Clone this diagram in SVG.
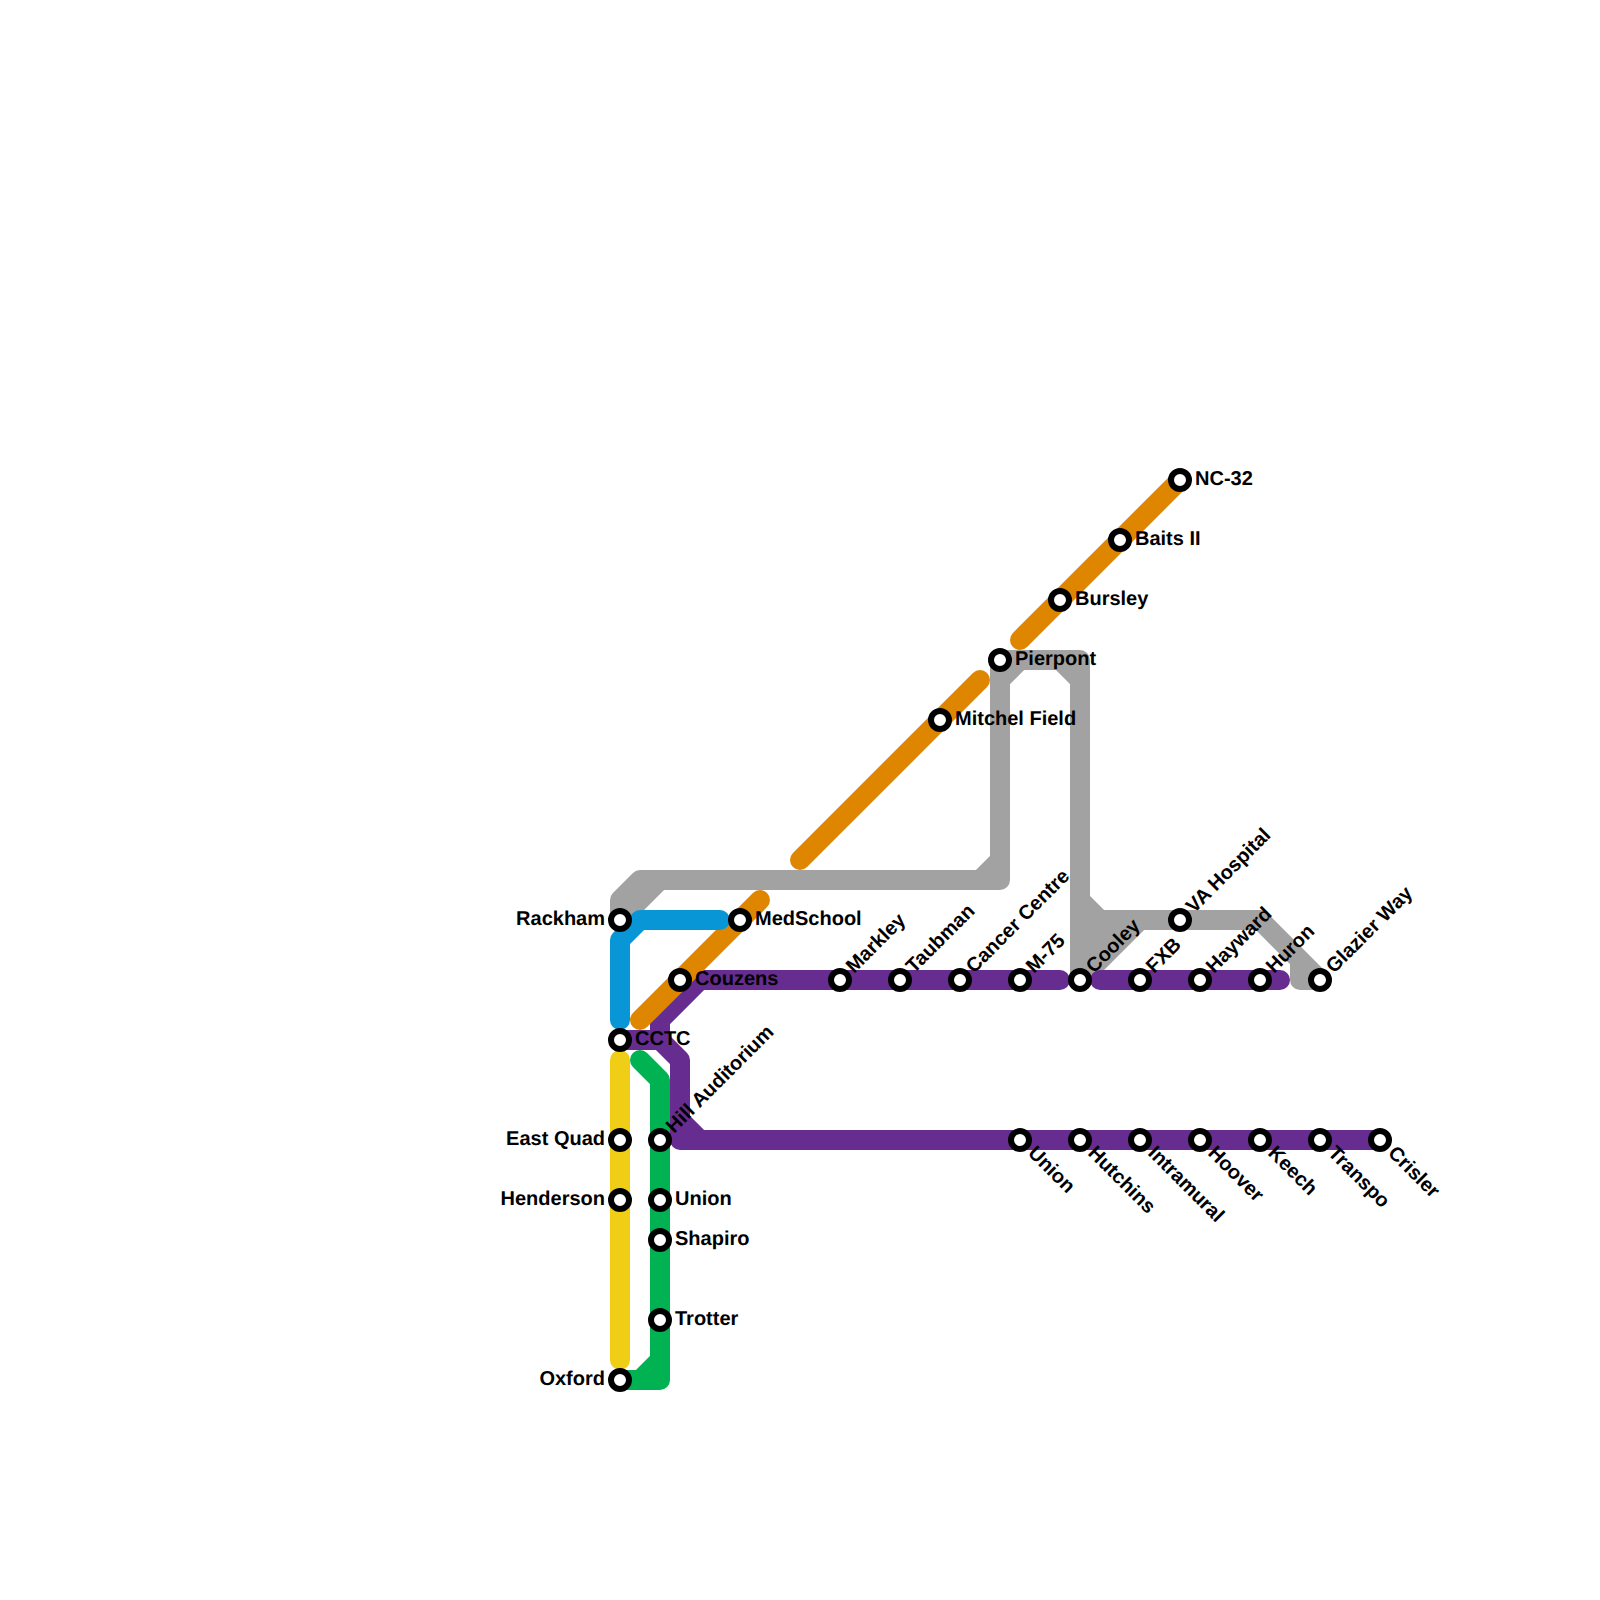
<svg xmlns="http://www.w3.org/2000/svg" width="1600" height="1600" viewBox="0 0 1600 1600">
<style>
.l{fill:none;stroke-width:20;stroke-linecap:round;stroke-linejoin:round}
.gy{stroke:#a2a2a2}.pu{stroke:#662c90}.or{stroke:#df8600}.bl{stroke:#0896d7}.ye{stroke:#f0ce15}.gr{stroke:#00b251}
.s circle{fill:#fff;stroke:#000;stroke-width:6}
text{font-family:"Liberation Sans",Arial,sans-serif;font-size:20px;font-weight:700;fill:#000;text-rendering:geometricPrecision}
</style>
<rect width="1600" height="1600" fill="#fff"/>
<g id="connectors">
<path class="l gy" d="M620 920V900L640 880H1000V660H1080V980M620 920L660 880M980 880L1000 860M1000 680L1020 660M1060 660L1080 680M1080 900L1100 920H1260L1320 980H1300V960M1100 960L1140 920M1080 980L1100 960"/>
<path fill="#a2a2a2" d="M1080 920H1140L1100 960L1080 980Z"/>
<path class="l pu" d="M620 1040H660L680 1060V1140H1380M660 1040V1020L700 980H1060M1100 980H1280M680 1120L700 1140"/>
<path class="l or" d="M640 1020L760 900M800 860L980 680M1020 640L1180 480"/>
<path class="l bl" d="M620 1020V940L640 920H720M620 940L640 920"/>
<path class="l ye" d="M620 1060V1360"/>
<path class="l gr" d="M640 1060L660 1080V1380H620M640 1380L660 1360"/>
</g>
<g id="n-rackham" class="s"><circle cx="620" cy="920" r="9"/><text x="605" y="925" text-anchor="end">Rackham</text></g>
<g id="n-cctc" class="s"><circle cx="620" cy="1040" r="9"/><text x="635" y="1045">CCTC</text></g>
<g id="n-eastquad" class="s"><circle cx="620" cy="1140" r="9"/><text x="605" y="1145" text-anchor="end">East Quad</text></g>
<g id="n-henderson" class="s"><circle cx="620" cy="1200" r="9"/><text x="605" y="1205" text-anchor="end">Henderson</text></g>
<g id="n-oxford" class="s"><circle cx="620" cy="1380" r="9"/><text x="605" y="1385" text-anchor="end">Oxford</text></g>
<g id="n-hill" class="s"><circle cx="660" cy="1140" r="9"/><text transform="translate(674 1134) rotate(-45)">Hill Auditorium</text></g>
<g id="n-union" class="s"><circle cx="660" cy="1200" r="9"/><text x="675" y="1205">Union</text></g>
<g id="n-shapiro" class="s"><circle cx="660" cy="1240" r="9"/><text x="675" y="1245">Shapiro</text></g>
<g id="n-trotter" class="s"><circle cx="660" cy="1320" r="9"/><text x="675" y="1325">Trotter</text></g>
<g id="n-couzens" class="s"><circle cx="680" cy="980" r="9"/><text x="695" y="985">Couzens</text></g>
<g id="n-medschool" class="s"><circle cx="740" cy="920" r="9"/><text x="755" y="925">MedSchool</text></g>
<g id="n-markley" class="s"><circle cx="840" cy="980" r="9"/><text transform="translate(854 974) rotate(-45)">Markley</text></g>
<g id="n-taubman" class="s"><circle cx="900" cy="980" r="9"/><text transform="translate(914 974) rotate(-45)">Taubman</text></g>
<g id="n-cancer" class="s"><circle cx="960" cy="980" r="9"/><text transform="translate(974 974) rotate(-45)">Cancer Centre</text></g>
<g id="n-m75" class="s"><circle cx="1020" cy="980" r="9"/><text transform="translate(1034 974) rotate(-45)">M-75</text></g>
<g id="n-cooley" class="s"><circle cx="1080" cy="980" r="9"/><text transform="translate(1094 974) rotate(-45)">Cooley</text></g>
<g id="n-fxb" class="s"><circle cx="1140" cy="980" r="9"/><text transform="translate(1154 974) rotate(-45)">FXB</text></g>
<g id="n-hayward" class="s"><circle cx="1200" cy="980" r="9"/><text transform="translate(1214 974) rotate(-45)">Hayward</text></g>
<g id="n-huron" class="s"><circle cx="1260" cy="980" r="9"/><text transform="translate(1274 974) rotate(-45)">Huron</text></g>
<g id="n-glazier" class="s"><circle cx="1320" cy="980" r="9"/><text transform="translate(1334 974) rotate(-45)">Glazier Way</text></g>
<g id="n-va" class="s"><circle cx="1180" cy="920" r="9"/><text transform="translate(1194 914) rotate(-45)">VA Hospital</text></g>
<g id="n-mitchel" class="s"><circle cx="940" cy="720" r="9"/><text x="955" y="725">Mitchel Field</text></g>
<g id="n-pierpont" class="s"><circle cx="1000" cy="660" r="9"/><text x="1015" y="665">Pierpont</text></g>
<g id="n-bursley" class="s"><circle cx="1060" cy="600" r="9"/><text x="1075" y="605">Bursley</text></g>
<g id="n-baits" class="s"><circle cx="1120" cy="540" r="9"/><text x="1135" y="545">Baits II</text></g>
<g id="n-nc32" class="s"><circle cx="1180" cy="480" r="9"/><text x="1195" y="485">NC-32</text></g>
<g id="n-union2" class="s"><circle cx="1020" cy="1140" r="9"/><text transform="translate(1027 1154) rotate(45)">Union</text></g>
<g id="n-hutchins" class="s"><circle cx="1080" cy="1140" r="9"/><text transform="translate(1087 1154) rotate(45)">Hutchins</text></g>
<g id="n-intramural" class="s"><circle cx="1140" cy="1140" r="9"/><text transform="translate(1147 1154) rotate(45)">Intramural</text></g>
<g id="n-hoover" class="s"><circle cx="1200" cy="1140" r="9"/><text transform="translate(1207 1154) rotate(45)">Hoover</text></g>
<g id="n-keech" class="s"><circle cx="1260" cy="1140" r="9"/><text transform="translate(1267 1154) rotate(45)">Keech</text></g>
<g id="n-transpo" class="s"><circle cx="1320" cy="1140" r="9"/><text transform="translate(1327 1154) rotate(45)">Transpo</text></g>
<g id="n-crisler" class="s"><circle cx="1380" cy="1140" r="9"/><text transform="translate(1387 1154) rotate(45)">Crisler</text></g>
</svg>
